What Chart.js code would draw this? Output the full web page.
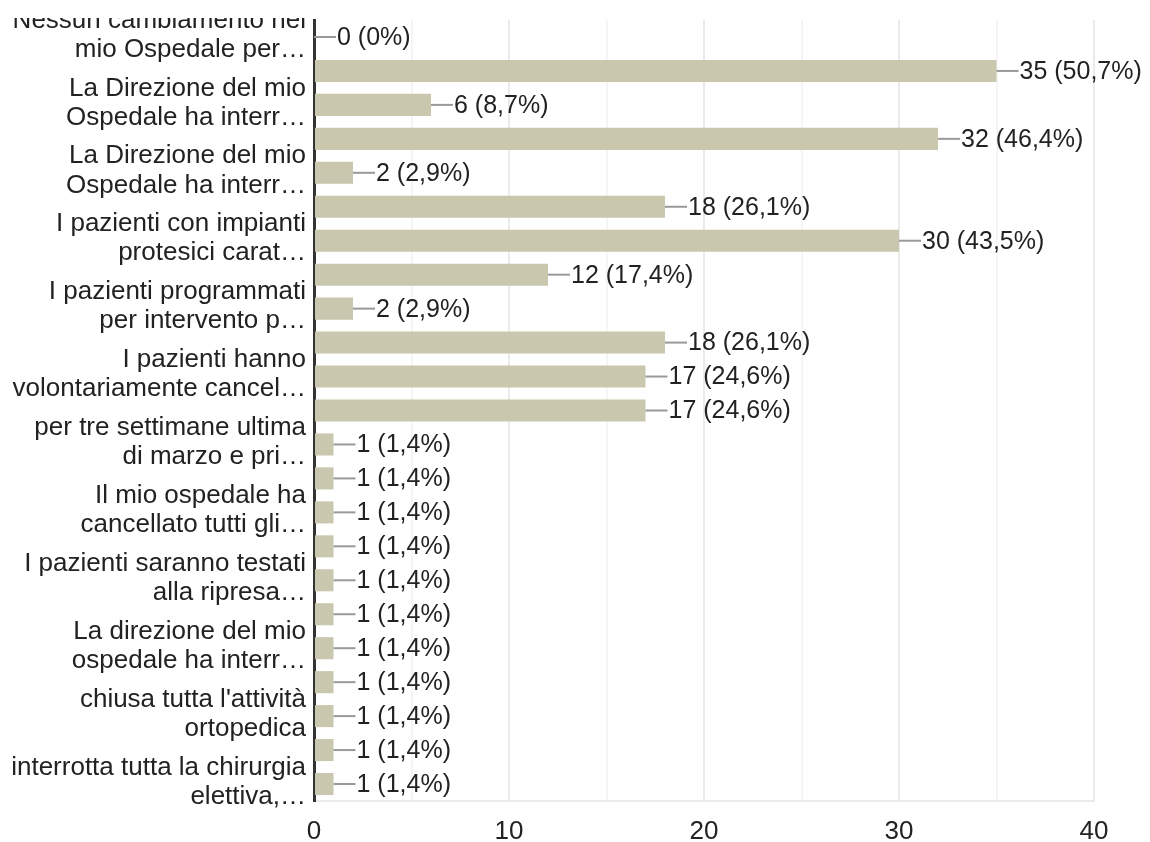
<!DOCTYPE html>
<html>
<head>
<meta charset="utf-8">
<script src="https://cdn.jsdelivr.net/npm/chart.js@4.4.1/dist/chart.umd.min.js"></script>
<style>
  html, body { margin: 0; padding: 0; background: #fff; overflow: hidden; }
  #wrap { position: absolute; left: 0; top: 18px; width: 1150px; height: 824px; }
</style>
</head>
<body>
<div id="wrap"><canvas id="chart"></canvas></div>
<script>
// only every other answer gets a visible label in the original
const categories = [
  ['Nessun cambiamento nel', 'mio Ospedale per…'], '',
  ['La Direzione del mio', 'Ospedale ha interr…'], '',
  ['La Direzione del mio', 'Ospedale ha interr…'], '',
  ['I pazienti con impianti', 'protesici carat…'], '',
  ['I pazienti programmati', 'per intervento p…'], '',
  ['I pazienti hanno', 'volontariamente cancel…'], '',
  ['per tre settimane ultima', 'di marzo e pri…'], '',
  ['Il mio ospedale ha', 'cancellato tutti gli…'], '',
  ['I pazienti saranno testati', 'alla ripresa…'], '',
  ['La direzione del mio', 'ospedale ha interr…'], '',
  ["chiusa tutta l'attività", 'ortopedica'], '',
  ['interrotta tutta la chirurgia', 'elettiva,…']
];
const counts = [0, 35, 6, 32, 2, 18, 30, 12, 2, 18, 17, 17, 1, 1, 1, 1, 1, 1, 1, 1, 1, 1, 1];
const percents = ['0%', '50,7%', '8,7%', '46,4%', '2,9%', '26,1%', '43,5%', '17,4%', '2,9%', '26,1%',
  '24,6%', '24,6%', '1,4%', '1,4%', '1,4%', '1,4%', '1,4%', '1,4%', '1,4%', '1,4%', '1,4%', '1,4%', '1,4%'];
const xTicks = [0, 10, 20, 30, 40];

const fontFamily = '"Liberation Sans", Arial, sans-serif';
const textColor = '#222';
const barColor = '#c9c7ad';

const valueLabels = {
  id: 'valueLabels',
  afterDatasetsDraw(chart) {
    const ctx = chart.ctx;
    const meta = chart.getDatasetMeta(0);
    ctx.save();
    ctx.font = '25px ' + fontFamily;
    ctx.textBaseline = 'middle';
    ctx.textAlign = 'left';
    meta.data.forEach((bar, i) => {
      const x = bar.x;
      const y = bar.y;
      ctx.strokeStyle = '#999';
      ctx.lineWidth = 2;
      ctx.beginPath();
      ctx.moveTo(x, y);
      ctx.lineTo(x + 22, y);
      ctx.stroke();
      ctx.fillStyle = textColor;
      ctx.fillText(`${counts[i]} (${percents[i]})`, x + 23, y + 1);
    });
    ctx.restore();
  }
};

new Chart(document.getElementById('chart'), {
  type: 'bar',
  data: {
    labels: categories,
    datasets: [{
      data: counts,
      backgroundColor: barColor,
      borderWidth: 0,
      barPercentage: 0.65,
      categoryPercentage: 1.0
    }]
  },
  options: {
    indexAxis: 'y',
    responsive: true,
    maintainAspectRatio: false,
    animation: false,
    layout: { padding: { top: 2, right: 56, bottom: 0, left: 0 } },
    plugins: {
      legend: { display: false },
      tooltip: { enabled: false }
    },
    scales: {
      x: {
        min: 0,
        max: 40,
        grid: {
          color: (c) => (c.tick && c.tick.value % 10 === 0) ? '#ebebeb' : '#f5f5f5',
          lineWidth: 2,
          drawTicks: false
        },
        border: { display: true, color: '#ebebeb', width: 2 },
        ticks: {
          stepSize: 5,
          autoSkip: false,
          maxRotation: 0,
          padding: 15,
          color: textColor,
          font: { family: fontFamily, size: 26, lineHeight: 1.2 },
          callback: (v) => xTicks.includes(v) ? v : ''
        },
        afterFit(scale) {
          scale.height = 41;
          scale.paddingLeft = 0;
          scale.paddingRight = 0;
        }
      },
      y: {
        z: 1,
        grid: { display: false, drawTicks: false },
        border: { display: true, color: '#333', width: 3 },
        ticks: {
          autoSkip: false,
          padding: 8,
          labelOffset: -2,
          color: textColor,
          font: { family: fontFamily, size: 26, lineHeight: 1.12 }
        },
        afterFit(scale) {
          scale.width = 314;
          scale.paddingTop = 0;
          scale.paddingBottom = 0;
        }
      }
    }
  },
  plugins: [valueLabels]
});
</script>
</body>
</html>
